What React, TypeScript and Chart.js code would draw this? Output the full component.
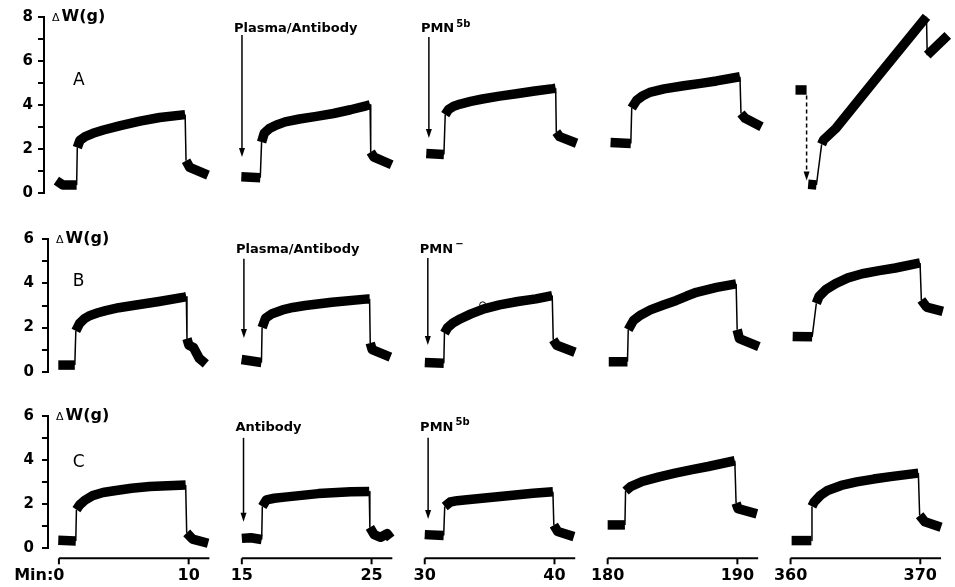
import { useEffect, useRef } from 'react';
import { Chart, registerables } from 'chart.js';

Chart.register(...registerables);

// ---------------- data ----------------
const panelStartMinutes = [0, 15, 30, 180, 360];
const xTickMinutes = [0, 10, 15, 25, 30, 40, 180, 190, 360, 370];
const rowNames = ['A', 'B', 'C'];
const rowMaxG = [8, 6, 6];

// traces: [minute, ΔW (g)] — centre of the recorded band
const traceA1 = [[-0.2, 0.55], [0.3, 0.35], [1.35, 0.35], [1.4, 2.05], [1.6, 2.38], [2.0, 2.55], [2.6, 2.7], [3.4, 2.85], [4.7, 3.05], [6.2, 3.25], [7.7, 3.42], [9.65, 3.55], [9.72, 1.45], [10.0, 1.15], [11.4, 0.8]];
const traceA2 = [[14.85, 0.72], [16.3, 0.68], [16.4, 2.3], [16.6, 2.7], [17.0, 2.92], [17.5, 3.07], [18.2, 3.22], [19.3, 3.35], [20.6, 3.47], [21.9, 3.6], [23.2, 3.77], [24.4, 3.95], [24.7, 4.0], [24.75, 1.85], [25.0, 1.62], [26.35, 1.27]];
const traceA3 = [[29.9, 1.78], [31.25, 1.74], [31.35, 3.55], [31.6, 3.78], [32.0, 3.93], [32.5, 4.03], [33.3, 4.15], [34.2, 4.26], [35.5, 4.39], [36.8, 4.5], [38.2, 4.62], [39.6, 4.73], [39.8, 4.75], [39.85, 2.75], [40.1, 2.55], [41.4, 2.25]];
const traceA4 = [[179.9, 2.28], [181.45, 2.24], [181.52, 3.85], [181.9, 4.2], [182.3, 4.38], [182.9, 4.56], [184.0, 4.72], [185.5, 4.86], [186.8, 4.97], [188.0, 5.08], [189.8, 5.27], [189.88, 3.6], [190.2, 3.38], [191.45, 3.0]];
const traceA5 = [[359.95, 4.67], [360.8, 4.67], [360.85, null], [360.92, 0.38], [361.55, 0.35], [361.95, 2.2], [362.1, 2.4], [363.0, 2.9], [366.4, 5.4], [369.97, 8.0], [370.03, 6.25], [371.6, 7.15]];

const traceB1 = [[-0.05, 0.3], [1.22, 0.3], [1.3, 1.85], [1.6, 2.2], [2.0, 2.42], [2.4, 2.55], [3.0, 2.67], [3.6, 2.77], [4.6, 2.9], [5.7, 3.0], [7.7, 3.18], [9.65, 3.38], [9.8, 3.4], [9.85, 1.5], [10.0, 1.2], [10.35, 1.1], [10.8, 0.6], [11.3, 0.35]];
const traceB2 = [[14.95, 0.55], [16.48, 0.42], [16.53, 2.0], [16.8, 2.43], [17.3, 2.63], [18.1, 2.8], [18.9, 2.91], [19.85, 3.0], [21.9, 3.15], [24.7, 3.3], [24.8, 3.3], [24.85, 1.3], [25.0, 1.0], [26.4, 0.66]];
const traceB3 = [[29.95, 0.42], [31.41, 0.38], [31.46, 1.75], [31.7, 2.0], [32.1, 2.2], [32.7, 2.4], [33.5, 2.62], [34.5, 2.85], [35.7, 3.03], [37.1, 3.18], [38.5, 3.3], [39.75, 3.45], [39.83, 1.45], [40.1, 1.2], [41.5, 0.88]];
const traceB4 = [[180, 0.45], [181.44, 0.45], [181.5, 1.9], [181.9, 2.32], [182.4, 2.55], [183.2, 2.8], [184.2, 3.02], [185.2, 3.23], [186.0, 3.43], [186.75, 3.6], [188.3, 3.82], [189.8, 3.98], [189.88, 1.9], [190.05, 1.5], [191.55, 1.14]];
const traceB5 = [[360.05, 1.6], [361.55, 1.58], [361.87, 3.1], [362.07, 3.4], [362.6, 3.72], [363.35, 3.99], [364.3, 4.25], [365.4, 4.44], [366.7, 4.58], [367.95, 4.7], [369.85, 4.93], [369.95, 3.25], [370.35, 2.93], [371.6, 2.73]];

const traceC1 = [[-0.05, 0.36], [1.3, 0.33], [1.35, 1.75], [1.6, 1.97], [2.0, 2.18], [2.6, 2.39], [3.4, 2.53], [4.4, 2.62], [5.6, 2.72], [7.0, 2.8], [9.77, 2.87], [9.85, 0.7], [10.3, 0.42], [11.5, 0.23]];
const traceC2 = [[15, 0.45], [15.7, 0.48], [16.53, 0.4], [16.58, 1.9], [16.9, 2.2], [17.5, 2.27], [18.3, 2.32], [20.9, 2.48], [23.4, 2.56], [24.82, 2.58], [24.87, 0.95], [25.2, 0.62], [25.7, 0.5], [26.2, 0.66], [26.48, 0.45]];
const traceC3 = [[30, 0.62], [31.46, 0.58], [31.54, 1.9], [31.97, 2.1], [32.5, 2.16], [33.25, 2.2], [35.8, 2.35], [38.35, 2.5], [39.88, 2.56], [39.95, 1.05], [40.25, 0.76], [41.5, 0.53]];
const traceC4 = [[180, 1.06], [181.33, 1.06], [181.38, 2.6], [181.77, 2.8], [182.66, 3.03], [183.9, 3.23], [185.2, 3.41], [186.5, 3.57], [187.75, 3.71], [189.8, 3.97], [189.9, 2.05], [190.05, 1.8], [191.5, 1.56]];
const traceC5 = [[360.08, 0.35], [361.6, 0.35], [361.65, 1.9], [361.82, 2.1], [362.3, 2.4], [362.85, 2.62], [363.9, 2.85], [365.1, 3.01], [366.4, 3.14], [367.7, 3.25], [369.85, 3.41], [369.95, 1.5], [370.35, 1.2], [371.6, 0.95]];

const rowTraces = [
  [traceA1, traceA2, traceA3, traceA4, traceA5],
  [traceB1, traceB2, traceB3, traceB4, traceB5],
  [traceC1, traceC2, traceC3, traceC4, traceC5],
];

// additions marked with arrows: minute, label, superscript, label level, arrow top, arrow tip (g)
const additionsA = [
  { minute: 14.9, text: 'Plasma/Antibody', sup: '', labelY: 7.44, top: 7.17, tip: 1.62 },
  { minute: 30.1, text: 'PMN', sup: '5b', labelY: 7.44, top: 7.08, tip: 2.49 },
];
const additionsB = [
  { minute: 15.13, text: 'Plasma/Antibody', sup: '', labelY: 5.53, top: 5.12, tip: 1.53 },
  { minute: 30.18, text: 'PMN', sup: '\u2212', labelY: 5.53, top: 5.15, tip: 1.21 },
];
const additionsC = [
  { minute: 15.13, text: 'Antibody', sup: '', labelY: 5.47, top: 5.01, tip: 1.2 },
  { minute: 30.26, text: 'PMN', sup: '5b', labelY: 5.47, top: 5.01, tip: 1.33 },
];
const rowAdditions = [additionsA, additionsB, additionsC];

// dashed arrow in row A, last panel: minute, from, to (g)
const dashedArrowA = [360.8, 4.42, 0.55];
// small circular artefact on trace B, panel 3: minute, g
const markerB = [34.4, 3.03];
// panel letter position: minute, g per row
const letterMinute = 1.07;
const letterY = [5.1, 4.08, 3.9];

// ---------------- layout ----------------
const W = 955;
const H = 587;
const PANEL_GAP = 14.1; // virtual minutes between panel origins
const PANEL_SPAN = 11.6; // length of each time-axis segment (min)
const PX_PER_MIN = 13.07;
const ORIGIN_PX = 59;
const axisLeft = [44, 48, 48];
const tickPad = [5, 8, 8];
const areaTop = [16.7, 239.3, 416];
const areaBottom = [192.7, 371.7, 548.3];
const BAND = 9.5;
const FONT = "'DejaVu Sans', sans-serif";
const X_LABEL_PAD = 18;

const panelOf = (m: number) => {
  let p = 0;
  panelStartMinutes.forEach((s, i) => {
    if (m + 1.5 >= s) p = i;
  });
  return p;
};
const toV = (m: number) => {
  const p = panelOf(m);
  return p * PANEL_GAP + (m - panelStartMinutes[p]);
};

function drawArrow(ctx: CanvasRenderingContext2D, x: number, y0: number, y1: number, dashed: boolean) {
  ctx.lineWidth = 1.5;
  ctx.setLineDash(dashed ? [4, 3] : []);
  ctx.beginPath();
  ctx.moveTo(x, y0);
  ctx.lineTo(x, y1 - 7);
  ctx.stroke();
  ctx.setLineDash([]);
  ctx.beginPath();
  ctx.moveTo(x - 3, y1 - 9);
  ctx.lineTo(x + 3, y1 - 9);
  ctx.lineTo(x, y1);
  ctx.closePath();
  ctx.fill();
}

const makeOverlay = (r: number) => ({
  id: 'overlay' + r,
  afterDatasetsDraw(chart: any) {
    const ctx: CanvasRenderingContext2D = chart.ctx;
    const xs = chart.scales.x;
    const ys = chart.scales.y;
    const area = chart.chartArea;
    ctx.save();
    ctx.fillStyle = '#000';
    ctx.strokeStyle = '#000';
    ctx.textBaseline = 'middle';
    ctx.textAlign = 'left';

    // axis unit
    const ty = ys.getPixelForValue(rowMaxG[r]);
    let x = area.left + 8;
    ctx.font = `11px ${FONT}`;
    ctx.fillText('\u0394', x, ty + 1);
    x += ctx.measureText('\u0394').width + 2;
    ctx.font = `bold 16px ${FONT}`;
    ctx.fillText('W(g)', x, ty);

    // panel letter
    ctx.font = `17px ${FONT}`;
    ctx.fillText(rowNames[r], xs.getPixelForValue(toV(letterMinute)), ys.getPixelForValue(letterY[r]));

    // addition arrows
    for (const a of rowAdditions[r]) {
      const ax = xs.getPixelForValue(toV(a.minute));
      drawArrow(ctx, ax, ys.getPixelForValue(a.top), ys.getPixelForValue(a.tip), false);
      const ly = ys.getPixelForValue(a.labelY);
      ctx.font = `bold 13px ${FONT}`;
      ctx.fillText(a.text, ax - 8, ly);
      if (a.sup) {
        const w = ctx.measureText(a.text).width;
        ctx.font = `bold 10px ${FONT}`;
        ctx.fillText(a.sup, ax - 8 + w + 2, ly - 5);
      }
    }

    if (r === 0) {
      const dx = xs.getPixelForValue(toV(dashedArrowA[0]));
      drawArrow(ctx, dx, ys.getPixelForValue(dashedArrowA[1]), ys.getPixelForValue(dashedArrowA[2]), true);
    }

    if (r === 2) {
      // broken time axis: one segment per panel
      const yAx = area.bottom + 10;
      ctx.lineWidth = 2;
      panelStartMinutes.forEach((s) => {
        ctx.beginPath();
        ctx.moveTo(xs.getPixelForValue(toV(s)), yAx);
        ctx.lineTo(xs.getPixelForValue(toV(s + PANEL_SPAN)), yAx);
        ctx.stroke();
      });
      xTickMinutes.forEach((m) => {
        const tx = xs.getPixelForValue(toV(m));
        ctx.beginPath();
        ctx.moveTo(tx, yAx);
        ctx.lineTo(tx, yAx + 6);
        ctx.stroke();
      });
      ctx.font = `bold 16px ${FONT}`;
      const w0 = ctx.measureText(String(xTickMinutes[0])).width;
      ctx.textAlign = 'right';
      ctx.fillText('Min:', xs.getPixelForValue(toV(xTickMinutes[0])) - w0 / 2, xs.top + X_LABEL_PAD + 9.6);
    }
    ctx.restore();
  },
});

const segWidth = (c: any) => {
  const dx = Math.abs(c.p1.x - c.p0.x);
  const dy = Math.abs(c.p1.y - c.p0.y);
  return dy > 5 * dx ? 1.5 : BAND;
};

function buildConfig(r: number): any {
  const xMin = (axisLeft[r] - ORIGIN_PX) / PX_PER_MIN;
  const xMax = (W - ORIGIN_PX) / PX_PER_MIN;
  const datasets: any[] = rowTraces[r].map((tr) => ({
    data: tr.map(([m, g]) => ({ x: toV(m as number), y: g })),
    borderColor: '#000',
    backgroundColor: '#000',
    borderWidth: BAND,
    borderCapStyle: 'butt',
    borderJoinStyle: 'round',
    tension: 0,
    pointRadius: 0,
    clip: false,
    segment: { borderWidth: segWidth },
  }));
  if (r === 1) {
    datasets.push({
      data: [{ x: toV(markerB[0]), y: markerB[1] }],
      showLine: false,
      pointRadius: 3,
      pointBackgroundColor: '#fff',
      pointBorderColor: '#000',
      pointBorderWidth: 1,
      clip: false,
    });
  }
  const showX = r === 2;
  const xScale: any = {
    type: 'linear',
    min: xMin,
    max: xMax,
    display: showX,
  };
  if (showX) {
    Object.assign(xScale, {
      afterBuildTicks: (s: any) => {
        s.ticks = xTickMinutes.map((m) => ({ value: toV(m) }));
      },
      afterFit: (s: any) => {
        s.height = H - areaBottom[r];
      },
      border: { display: false },
      grid: { display: false, drawTicks: false },
      ticks: {
        autoSkip: false,
        maxRotation: 0,
        padding: X_LABEL_PAD,
        color: '#000',
        font: { family: FONT, weight: 'bold', size: 16 },
        callback: (_v: any, i: number) => String(xTickMinutes[i]),
      },
    });
  }
  return {
    type: 'line',
    data: { datasets },
    options: {
      animation: false,
      responsive: false,
      events: [],
      layout: {
        padding: {
          top: areaTop[r],
          bottom: showX ? 0 : H - areaBottom[r],
          left: 0,
          right: 0,
        },
      },
      plugins: { legend: { display: false }, tooltip: { enabled: false } },
      scales: {
        x: xScale,
        y: {
          min: 0,
          max: rowMaxG[r],
          afterFit: (s: any) => {
            s.width = axisLeft[r];
          },
          border: { display: true, color: '#000', width: 2 },
          grid: { drawOnChartArea: false, drawTicks: true, tickLength: 6, color: '#000', lineWidth: 2 },
          ticks: {
            stepSize: 1,
            autoSkip: false,
            padding: tickPad[r],
            color: '#000',
            font: { family: FONT, weight: 'bold', size: 15 },
            callback: (v: any) => (Number(v) % 2 === 0 ? String(v) : ''),
          },
        },
      },
    },
    plugins: [makeOverlay(r)],
  };
}

export default function App() {
  const refs = useRef<(HTMLCanvasElement | null)[]>([]);
  useEffect(() => {
    const charts = rowNames.map((_, r) => new Chart(refs.current[r] as HTMLCanvasElement, buildConfig(r)));
    return () => charts.forEach((c) => c.destroy());
  }, []);
  return (
    <div style={{ position: 'fixed', left: 0, top: 0, width: W, height: H, background: '#fff' }}>
      {rowNames.map((n, r) => (
        <canvas
          key={n}
          ref={(el) => {
            refs.current[r] = el;
          }}
          width={W}
          height={H}
          style={{ position: 'absolute', left: 0, top: 0, width: W, height: H }}
        />
      ))}
    </div>
  );
}
